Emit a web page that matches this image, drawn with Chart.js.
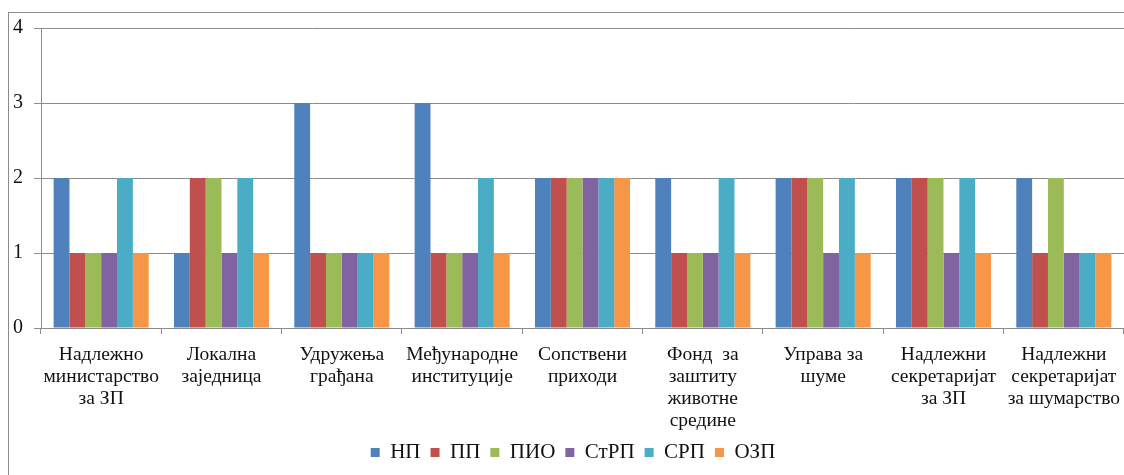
<!DOCTYPE html>
<html>
<head>
<meta charset="utf-8">
<script src="https://cdn.jsdelivr.net/npm/chart.js@4/dist/chart.umd.min.js"></script>
<style>
  html, body { margin: 0; padding: 0; background: #fff; overflow: hidden; width: 1124px; height: 475px; }
  #frame { position: absolute; left: 8px; top: 12px; width: 1200px; height: 500px;
           border-left: 1px solid #8a8a8a; border-top: 1px solid #8a8a8a; }
  #wrap { position: absolute; left: 0; top: 0; width: 1130px; height: 475px; }
</style>
</head>
<body>
<div id="frame"></div>
<div id="wrap"><canvas id="c"></canvas></div>
<script>
// Funding sources (categories) and the protected-area types (series)
const categories = [
  ["Надлежно", "министарство", "за ЗП"],
  ["Локална", "заједница"],
  ["Удружења", "грађана"],
  ["Међународне", "институције"],
  ["Сопствени", "приходи"],
  ["Фонд  за", "заштиту", "животне", "средине"],
  ["Управа за", "шуме"],
  ["Надлежни", "секретаријат", "за ЗП"],
  ["Надлежни", "секретаријат", "за шумарство"]
];

const seriesNames = ["НП", "ПП", "ПИО", "СтРП", "СРП", "ОЗП"];

const np   = [2, 1, 3, 3, 2, 2, 2, 2, 2];
const pp   = [1, 2, 1, 1, 2, 1, 2, 2, 1];
const pio  = [1, 2, 1, 1, 2, 1, 2, 2, 2];
const strp = [1, 1, 1, 1, 2, 1, 1, 1, 1];
const srp  = [2, 2, 1, 2, 2, 2, 2, 2, 1];
const ozp  = [1, 1, 1, 1, 2, 1, 1, 1, 1];

const yTicks = [0, 1, 2, 3, 4];

const colors = ["#4F81BD", "#C0504D", "#9BBB59", "#8064A2", "#4BACC6", "#F79646"];
const values = [np, pp, pio, strp, srp, ozp];

const FONT = "'Liberation Serif', 'Times New Roman', serif";
const gridColor = "#8c8c8c";

// Centre the legend under the visible plot area rather than the whole canvas
const legendShift = {
  id: "legendShift",
  afterLayout(chart) {
    const lg = chart.legend;
    if (!lg) return;
    const dx = 8;
    lg.left += dx;
    lg.right += dx;
  }
};

new Chart(document.getElementById("c"), {
  type: "bar",
  data: {
    labels: categories,
    datasets: seriesNames.map((name, i) => ({
      label: name,
      data: values[i],
      backgroundColor: colors[i],
      borderWidth: 0,
      categoryPercentage: 0.79,
      barPercentage: 1.0
    }))
  },
  plugins: [legendShift],
  options: {
    responsive: true,
    maintainAspectRatio: false,
    animation: false,
    layout: { padding: { top: 28, right: 0, bottom: 2, left: 0 } },
    plugins: {
      tooltip: { enabled: false },
      legend: {
        position: "bottom",
        labels: {
          font: { family: FONT, size: 21 },
          color: "#111",
          boxWidth: 9,
          boxHeight: 9,
          padding: 10
        }
      }
    },
    scales: {
      x: {
        grid: {
          drawOnChartArea: false,
          drawTicks: true,
          tickLength: 6,
          color: gridColor,
          offset: true
        },
        border: { color: gridColor, width: 1 },
        ticks: {
          autoSkip: false,
          maxRotation: 0,
          minRotation: 0,
          padding: 10,
          color: "#111",
          font: { family: FONT, size: 19.5, lineHeight: 1.12 }
        },
        afterFit: (s) => { s.height = 104; }
      },
      y: {
        min: 0,
        max: 4,
        afterBuildTicks: (s) => { s.ticks = yTicks.map(v => ({ value: v })); },
        grid: {
          color: gridColor,
          tickLength: 7,
          lineWidth: 1
        },
        border: { color: gridColor, width: 1 },
        ticks: {
          padding: 11,
          color: "#111",
          font: { family: FONT, size: 20 }
        },
        afterFit: (s) => { s.width = 41; }
      }
    }
  }
});
</script>
</body>
</html>
